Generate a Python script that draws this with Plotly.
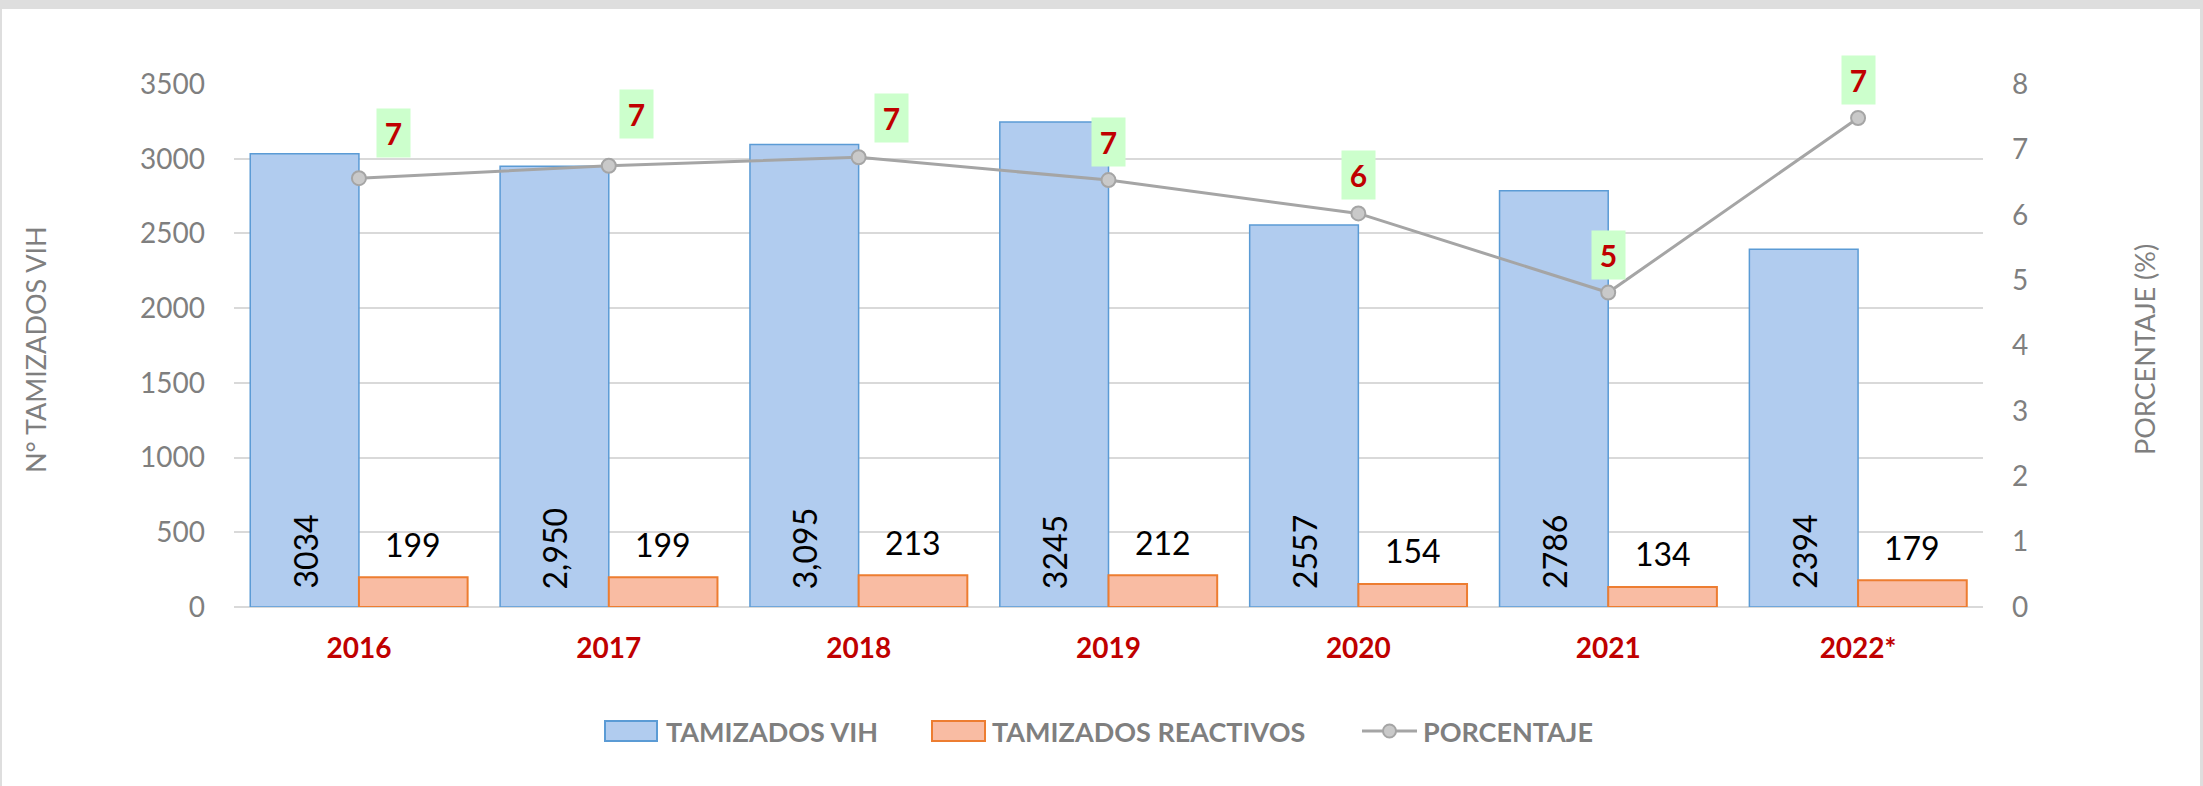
import plotly.graph_objects as go

# ---------------- data ----------------
years = ["2016", "2017", "2018", "2019", "2020", "2021", "2022*"]
tamizados_vih = [3034, 2950, 3095, 3245, 2557, 2786, 2394]
tamizados_vih_labels = ["3034", "2,950", "3,095", "3245", "2557", "2786", "2394"]
tamizados_reactivos = [199, 199, 213, 212, 154, 134, 179]
tamizados_reactivos_labels = ["199", "199", "213", "212", "154", "134", "179"]
porcentaje = [6.56, 6.75, 6.88, 6.53, 6.02, 4.81, 7.48]
porcentaje_labels = ["7", "7", "7", "7", "6", "5", "7"]
left_ticks = [0, 500, 1000, 1500, 2000, 2500, 3000, 3500]
right_ticks = [0, 1, 2, 3, 4, 5, 6, 7, 8]

# ---------------- layout constants (pixels) ----------------
W, H = 2203, 786
PX0, PX1 = 234, 1983   # plot area left/right
PY0, PY1 = 84, 607     # plot area top/bottom
PW, PH = PX1 - PX0, PY1 - PY0
BARGAP = 0.13
FONT = "Lato, 'Open Sans', sans-serif"
GREY = "#7F7F7F"
RED = "#C00000"

# label offsets for percentage boxes (pixels: right, up)
pct_label_shift = [(35, 45), (28, 52), (33, 39), (0, 38), (0, 38), (0, 38), (0, 38)]


def pxx(px):
    return (px - PX0) / PW


def pxy(py):
    return (PY1 - py) / PH


cat_w = PW / len(years)
bar_w = cat_w * (1 - BARGAP) / 2

fig = go.Figure()

fig.add_trace(go.Bar(
    x=years, y=tamizados_vih, name="TAMIZADOS VIH",
    marker=dict(color="#B1CCEF", line=dict(color="#5B9BD5", width=1.5)),
    showlegend=False, hoverinfo="skip",
))
fig.add_trace(go.Bar(
    x=years, y=tamizados_reactivos, name="TAMIZADOS REACTIVOS",
    marker=dict(color="#F9BCA3", line=dict(color="#ED7D31", width=2)),
    showlegend=False, hoverinfo="skip",
))
fig.add_trace(go.Scatter(
    x=years, y=porcentaje, name="PORCENTAJE", yaxis="y2",
    mode="lines+markers",
    line=dict(color="#A5A5A5", width=3),
    marker=dict(size=14, color="#C9C9C9", line=dict(color="#A5A5A5", width=2)),
    showlegend=False, hoverinfo="skip", cliponaxis=False,
))

annotations = []
# blue bar labels (rotated, inside near the base)
for i, lab in enumerate(tamizados_vih_labels):
    annotations.append(dict(
        x=i, y=0, xref="x", yref="y", text=lab, showarrow=False,
        textangle=-90, xanchor="center", yanchor="bottom",
        xshift=-bar_w / 2, yshift=16,
        font=dict(family=FONT, size=32, color="#000000"),
    ))
# orange bar labels
for i, (v, lab) in enumerate(zip(tamizados_reactivos, tamizados_reactivos_labels)):
    annotations.append(dict(
        x=i, y=v, xref="x", yref="y", text=lab, showarrow=False,
        xanchor="center", yanchor="middle",
        xshift=bar_w / 2, yshift=33,
        font=dict(family=FONT, size=32, color="#000000"),
    ))
# percentage labels
for i, (v, lab, (dx, dy)) in enumerate(zip(porcentaje, porcentaje_labels, pct_label_shift)):
    annotations.append(dict(
        x=i, y=v, xref="x", yref="y2", text="<b>" + lab + "</b>", showarrow=False,
        xanchor="center", yanchor="middle", xshift=dx, yshift=dy,
        width=33, height=48, bgcolor="#CCFFCC", borderpad=0,
        font=dict(family=FONT, size=30, color=RED),
    ))
# axis titles
annotations.append(dict(
    x=pxx(36), y=pxy(350), xref="paper", yref="paper", text="N° TAMIZADOS VIH",
    textangle=-90, showarrow=False, xanchor="center", yanchor="middle",
    font=dict(family=FONT, size=27, color=GREY),
))
annotations.append(dict(
    x=pxx(2145), y=pxy(350), xref="paper", yref="paper", text="PORCENTAJE (%)",
    textangle=-90, showarrow=False, xanchor="center", yanchor="middle",
    font=dict(family=FONT, size=27, color=GREY),
))

# custom legend
LEG_Y = 731
legend_items = [
    ("TAMIZADOS VIH", "bar", "#B1CCEF", "#5B9BD5", 605, 657, 664),
    ("TAMIZADOS REACTIVOS", "bar", "#F9BCA3", "#ED7D31", 932, 985, 990),
    ("PORCENTAJE", "line", "#C9C9C9", "#A5A5A5", 1362, 1417, 1421),
]
shapes = []
for text, kind, fill, edge, sx0, sx1, tx in legend_items:
    if kind == "bar":
        shapes.append(dict(
            type="rect", xref="paper", yref="paper",
            x0=pxx(sx0), x1=pxx(sx1), y0=pxy(LEG_Y + 10), y1=pxy(LEG_Y - 10),
            fillcolor=fill, line=dict(color=edge, width=2),
        ))
    else:
        shapes.append(dict(
            type="line", xref="paper", yref="paper",
            x0=pxx(sx0), x1=pxx(sx1), y0=pxy(LEG_Y), y1=pxy(LEG_Y),
            line=dict(color=edge, width=3),
        ))
        cx = (sx0 + sx1) / 2
        shapes.append(dict(
            type="circle", xref="paper", yref="paper",
            x0=pxx(cx - 6.5), x1=pxx(cx + 6.5), y0=pxy(LEG_Y + 6.5), y1=pxy(LEG_Y - 6.5),
            fillcolor=fill, line=dict(color=edge, width=2),
        ))
    annotations.append(dict(
        x=pxx(tx), y=pxy(LEG_Y), xref="paper", yref="paper",
        text="<b>" + text + "</b>", showarrow=False,
        xanchor="left", yanchor="middle",
        font=dict(family=FONT, size=27, color=GREY),
    ))

# frame: grey top band and side lines
shapes.append(dict(type="rect", xref="paper", yref="paper", layer="below",
                   x0=pxx(0), x1=pxx(W), y0=pxy(9), y1=pxy(0),
                   fillcolor="#DEDEDE", line=dict(width=0)))
shapes.append(dict(type="rect", xref="paper", yref="paper", layer="below",
                   x0=pxx(0), x1=pxx(2), y0=pxy(H), y1=pxy(0),
                   fillcolor="#DEDEDE", line=dict(width=0)))
shapes.append(dict(type="rect", xref="paper", yref="paper", layer="below",
                   x0=pxx(W - 3), x1=pxx(W), y0=pxy(H), y1=pxy(0),
                   fillcolor="#DEDEDE", line=dict(width=0)))

fig.update_layout(
    width=W, height=H,
    margin=dict(l=PX0, r=W - PX1, t=PY0, b=H - PY1, pad=0),
    paper_bgcolor="white", plot_bgcolor="white",
    barmode="group", bargap=BARGAP, bargroupgap=0,
    showlegend=False,
    font=dict(family=FONT, color=GREY),
    xaxis=dict(
        type="category", categoryorder="array", categoryarray=years,
        range=[-0.5, len(years) - 0.5], autorange=False,
        tickmode="array", tickvals=years,
        ticktext=["<b>" + y + "</b>" for y in years],
        tickfont=dict(family=FONT, size=28, color=RED),
        tickangle=0,
        showgrid=False, zeroline=False, showline=False,
        ticks="", ticklabelstandoff=22,
    ),
    yaxis=dict(
        range=[0, 3500], autorange=False, tickmode="array", tickvals=left_ticks,
        tickfont=dict(family=FONT, size=28, color=GREY),
        showgrid=True, gridcolor="#D9D9D9", gridwidth=2,
        zeroline=True, zerolinecolor="#D9D9D9", zerolinewidth=2,
        showline=False, ticks="", ticklabelstandoff=28,
    ),
    yaxis2=dict(
        range=[0, 8], autorange=False, overlaying="y", side="right",
        tickmode="array", tickvals=right_ticks,
        tickfont=dict(family=FONT, size=28, color=GREY),
        showgrid=False, zeroline=False, showline=False,
        ticks="", ticklabelstandoff=28,
    ),
    annotations=annotations,
    shapes=shapes,
)

fig.write_html(
    "out.html",
    config={"displayModeBar": False, "staticPlot": True},
    post_script="document.body.style.margin='0';document.body.style.overflow='hidden';",
)
